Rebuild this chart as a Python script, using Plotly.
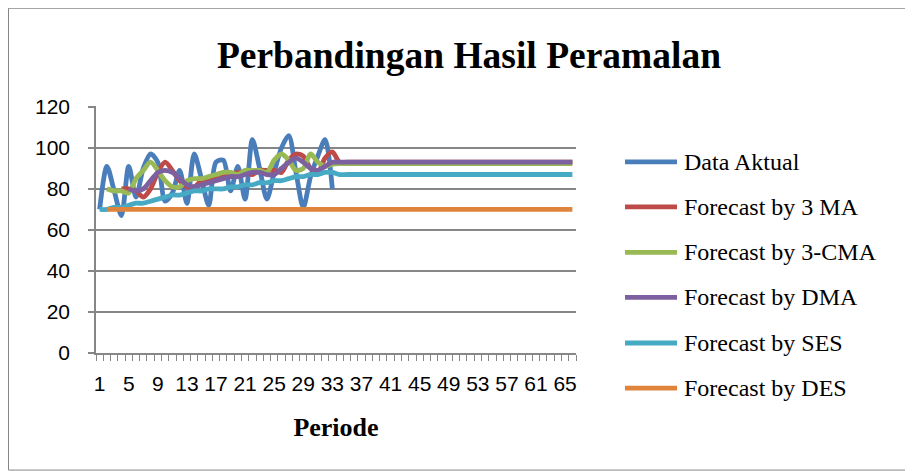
import plotly.graph_objects as go

periode = list(range(1, 67))
tick_labels = [str(v) for v in range(1, 66, 4)]

data_aktual = [70, 91, 79, 67, 91, 76, 90, 97, 93, 74, 78, 89, 73, 97, 85, 72, 93, 94, 79, 91,
               75, 104, 90, 75, 88, 100, 106, 88, 71, 86, 96, 104, 80]
ma3 = [None, None, None, 80, 80, 79, 76, 80, 88, 93, 89, 84, 81, 81, 84, 85, 85, 86, 87, 88,
       88, 87, 89, 89, 89, 88, 94, 97, 96, 90, 88, 95, 98] + [93] * 33
cma3 = [None, 80, 79, 79, 78, 85, 89, 93, 89, 84, 81, 81, 84, 85, 85, 86, 87, 88, 88, 87,
        89, 89, 89, 88, 94, 97, 94, 89, 90, 97, 93, 91, 92] + [92.3] * 33
dma = [None, None, None, None, 80, 79, 80, 84, 88, 89, 88, 85, 82, 81, 82, 83, 84, 85, 86, 86,
       87, 88, 88, 87, 87, 90, 93, 95, 93, 90, 89, 91, 93] + [93] * 33
ses = [70, 70, 71, 71, 72, 73, 73, 74, 75, 76, 77, 77, 78, 79, 79, 80, 80, 80, 81, 81,
       82, 82, 83, 83, 84, 84, 85, 86, 86, 87, 87, 88, 88] + [87] * 33
des = [None] + [70] * 65

names = ["Data Aktual", "Forecast by 3 MA", "Forecast by 3-CMA", "Forecast by DMA",
         "Forecast by SES", "Forecast by DES"]
colors = ["#4A7EBB", "#BE4B48", "#98B954", "#7D60A0", "#46AAC5", "#E0843C"]
series = [data_aktual, ma3, cma3, dma, ses, des]

# the page has an 8px body margin: work in figure pixel coords = screen - 8
OFF = 8
W, H = 913 - OFF, 471 - OFF
YMAX = 120.4
L, R, B = 96 - OFF, 576 - OFF, 353 - OFF
T = B - (353 - 107) * YMAX / 120.0

def px_x(p):  # screen px -> paper
    return (p - OFF - L) / (R - L)
def px_y(p):
    return (B - (p - OFF)) / (B - T)

fig = go.Figure()
for name, col, vals in zip(names, colors, series):
    fig.add_trace(go.Scatter(
        x=periode[:len(vals)], y=vals, name=name, mode="lines",
        line=dict(color=col, width=4.8, shape="spline", smoothing=0.8),
        connectgaps=False, showlegend=False))

shapes = []
annotations = []
# outer chart border
shapes.append(dict(type="rect", xref="paper", yref="paper",
                   x0=px_x(8.5), x1=px_x(911.5), y0=px_y(470), y1=px_y(8.5),
                   line=dict(color="#868686", width=1), fillcolor="rgba(0,0,0,0)", layer="below"))
# custom legend
leg_y = [162, 207, 252.5, 297.5, 343, 388]
for name, col, yy in zip(names, colors, leg_y):
    shapes.append(dict(type="line", xref="paper", yref="paper",
                       x0=px_x(625), x1=px_x(677), y0=px_y(yy), y1=px_y(yy),
                       line=dict(color=col, width=4.8)))
    annotations.append(dict(xref="paper", yref="paper", x=px_x(682), y=px_y(yy),
                            text=name, showarrow=False, xanchor="left", yanchor="middle",
                            font=dict(family="Liberation Serif", size=24, color="black")))

fig.update_layout(
    width=W, height=H,
    margin=dict(l=L, r=W - R, t=T, b=H - B, pad=0),
    paper_bgcolor="white", plot_bgcolor="white",
    title=dict(text="<b>Perbandingan Hasil Peramalan</b>", xref="container", yref="container",
               x=(469 - OFF) / W, y=1 - (55 - OFF) / H, xanchor="center", yanchor="middle",
               font=dict(family="Liberation Serif", size=37.5, color="black")),
    xaxis=dict(range=[0.5, 66.5], tickmode="array", tickvals=list(range(1, 66, 4)),
               ticktext=tick_labels, ticks="", showgrid=False, zeroline=False,
               showline=True, linecolor="#868686", linewidth=1.5,
               ticklabelstandoff=11,
               tickfont=dict(family="Liberation Sans", size=21, color="black"),
               minor=dict(tickmode="linear", tick0=0.5, dtick=1, ticks="outside",
                          ticklen=6, tickcolor="#868686", tickwidth=1, showgrid=False),
               title=dict(text="<b>Periode</b>", standoff=24,
                          font=dict(family="Liberation Serif", size=26, color="black"))),
    yaxis=dict(range=[0, YMAX], tickvals=[0, 20, 40, 60, 80, 100, 120], showgrid=True,
               gridcolor="#868686", gridwidth=1.5, zeroline=False,
               showline=True, linecolor="#868686", linewidth=1.5,
               ticks="outside", ticklen=6, tickcolor="#868686", tickwidth=1.5,
               ticklabelstandoff=14,
               tickfont=dict(family="Liberation Sans", size=21, color="black")),
    shapes=shapes, annotations=annotations,
)
fig.write_html("out.html")
